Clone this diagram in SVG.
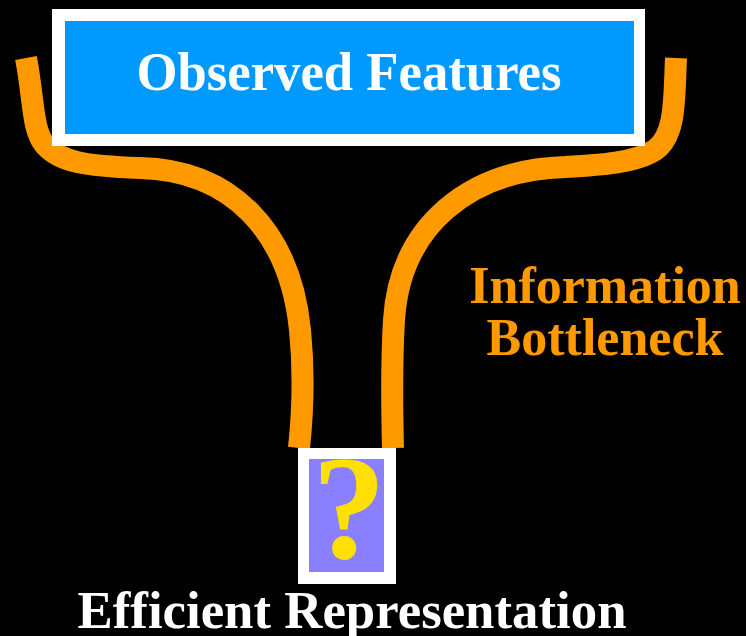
<svg xmlns="http://www.w3.org/2000/svg" width="746" height="636" viewBox="0 0 746 636">
<style>
.t{font-family:"Liberation Serif","Times New Roman",serif;font-weight:bold;text-anchor:middle}
.pipe{fill:none;stroke:#FF9900;stroke-width:22;stroke-linecap:butt}
</style>
<rect width="746" height="636" fill="#000"/>
<g id="connectors">
<path class="pipe" d="M26,58 C34,100 32,130 45,145 C60,162 85,166 140,168 C230,170 290,230 300,330 C305,380 302,420 299,448"/>
<path class="pipe" d="M676,58 C674,100 676,135 655,150 C635,163 600,165 565,167 C470,170 400,225 394,320 C391,370 392,410 393,448"/>
</g>
<g id="observed">
<rect x="52" y="9" width="593" height="137" fill="#fff"/>
<rect x="65" y="21" width="569" height="113" fill="#0099FF"/>
<text class="t" x="349" y="90" font-size="54" fill="#fff" textLength="425" lengthAdjust="spacingAndGlyphs">Observed Features</text>
</g>
<g id="representation">
<rect x="298" y="448" width="98" height="136" fill="#fff"/>
<rect x="309" y="459" width="75" height="113" fill="#8A80FF"/>
<text class="t" x="349" y="558" font-size="148" fill="#FFE000">?</text>
<text class="t" x="352" y="628" font-size="53" fill="#fff" textLength="549" lengthAdjust="spacingAndGlyphs">Efficient Representation</text>
</g>
<g id="bottleneck-label">
<text class="t" x="605" y="303" font-size="52" fill="#FF9900">Information</text>
<text class="t" x="605" y="355" font-size="52" fill="#FF9900">Bottleneck</text>
</g>
</svg>
